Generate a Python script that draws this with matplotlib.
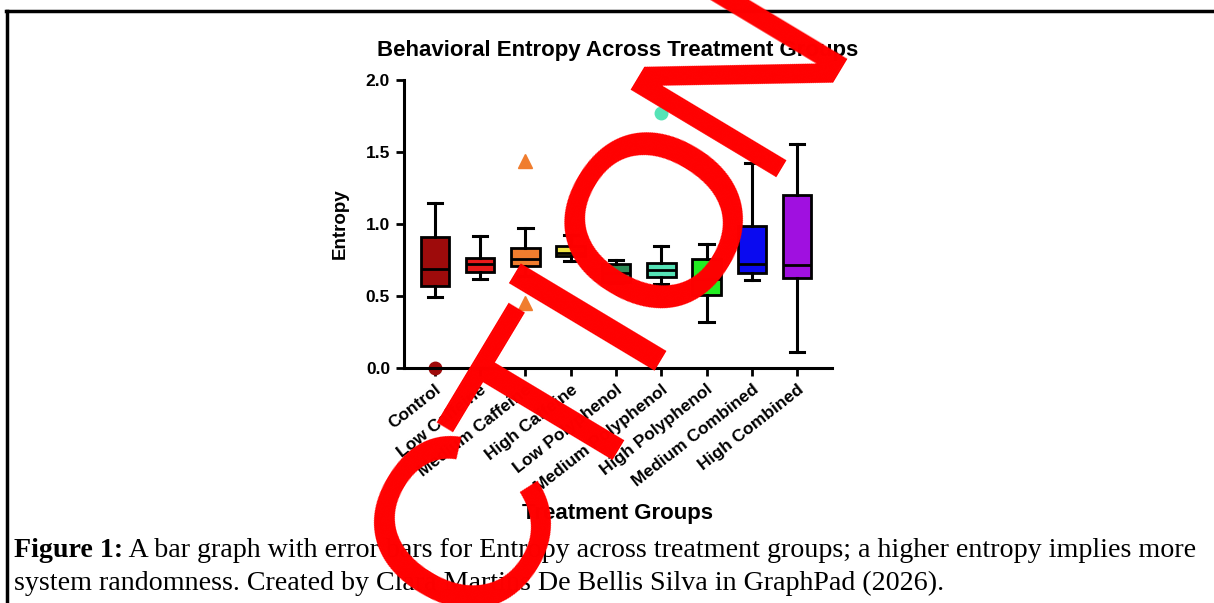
import numpy as np
import matplotlib.pyplot as plt
from matplotlib.lines import Line2D

# values (Entropy per treatment group)
groups = ['Control', 'Low Caffeine', 'Medium Caffeine', 'High Caffeine', 'Low Polyphenol',
          'Medium Polyphenol', 'High Polyphenol', 'Medium Combined', 'High Combined']
whislo = [0.49, 0.62, 0.64, 0.74, 0.59, 0.58, 0.32, 0.61, 0.11]
q1 = [0.57, 0.665, 0.705, 0.775, 0.60, 0.63, 0.51, 0.66, 0.625]
med = [0.69, 0.72, 0.76, 0.80, 0.66, 0.68, 0.62, 0.72, 0.715]
q3 = [0.91, 0.765, 0.832, 0.844, 0.72, 0.728, 0.756, 0.983, 1.198]
whishi = [1.145, 0.918, 0.969, 0.927, 0.75, 0.849, 0.86, 1.422, 1.554]
outliers = [[0.0], [], [1.44, 0.45], [], [], [1.77], [], [], []]

colors = ['#9E0B0B', '#E8191A', '#F07D2E', '#F0E442', '#2E8B57',
          '#55E3B6', '#22EE22', '#0A0AF0', '#A010E0']
markers = ['o', 'o', '^', 'o', 'o', 'o', 'o', 'o', 'o']

fig = plt.figure(figsize=(12.14, 6.03), dpi=100)
ax = fig.add_axes([404/1214, 1 - 368/603, 428/1214, 288/603])

stats = []
for i in range(len(groups)):
    stats.append({'whislo': whislo[i], 'q1': q1[i], 'med': med[i], 'q3': q3[i],
                  'whishi': whishi[i], 'fliers': outliers[i]})

bp = ax.bxp(stats, positions=np.arange(len(groups)), widths=0.63, patch_artist=True,
            boxprops=dict(linewidth=2.0, edgecolor='black'),
            medianprops=dict(color='black', linewidth=2.0),
            whiskerprops=dict(color='black', linewidth=2.2),
            capprops=dict(color='black', linewidth=2.2))
for i, box in enumerate(bp['boxes']):
    box.set_facecolor(colors[i])
for i, fl in enumerate(bp['fliers']):
    fl.set(marker=markers[i], markerfacecolor=colors[i], markeredgecolor=colors[i],
           markersize=10 if markers[i] == '^' else 9)
    fl.set_clip_on(False)

ax.set_xlim(-0.68, 8.77)
ax.set_ylim(0, 2.0)
ax.set_yticks([0.0, 0.5, 1.0, 1.5, 2.0])
ax.set_yticklabels(['0.0', '0.5', '1.0', '1.5', '2.0'], fontsize=12.5, fontweight='bold',
                   family='Liberation Sans')
ax.set_xticks(np.arange(len(groups)))
ax.set_xticklabels(groups, rotation=38, ha='right', rotation_mode='anchor', fontsize=12.5,
                   fontweight='bold', family='Liberation Sans')
for sp in ['top', 'right']:
    ax.spines[sp].set_visible(False)
for sp in ['left', 'bottom']:
    ax.spines[sp].set_linewidth(2.2)
ax.tick_params(width=2, length=6, pad=4)

ax.set_title('Behavioral Entropy Across Treatment Groups', fontsize=16, fontweight='bold',
             family='Liberation Sans', pad=17)
ax.set_ylabel('Entropy', fontsize=13.5, fontweight='bold', family='Liberation Sans', labelpad=12)
ax.set_xlabel('Treatment Groups', fontsize=16, fontweight='bold', family='Liberation Sans',
              labelpad=6)

# page frame around the figure
fig.add_artist(Line2D([6/1214, 1], [1 - 11/603, 1 - 11/603], color='black', lw=2.5))
fig.add_artist(Line2D([7/1214, 7/1214], [0, 1 - 11/603], color='black', lw=2.5))

# caption
cap = fig.text(14/1214, 1 - 557/603, 'Figure 1:', fontsize=20.2, fontweight='bold',
               family='Liberation Serif')
ax.annotate(' A bar graph with error bars for Entropy across treatment groups; a higher entropy implies more',
            xy=(1, 0), xycoords=cap, va='bottom', ha='left', fontsize=20.2,
            family='Liberation Serif')
fig.text(14/1214, 1 - 590/603,
         'system randomness. Created by Clara Martins De Bellis Silva in GraphPad (2026).',
         fontsize=20.2, family='Liberation Serif')

# red stamp letters laid over the page
stamp = ['C', 'T', 'I', 'O', 'N']
stamp_xy = [(528, 560), (616, 445), (650, 342), (722, 255), (803, 100)]
for ch, (px, py) in zip(stamp, stamp_xy):
    fig.text(px/1214, 1 - py/603, ch, rotation=59, rotation_mode='anchor', ha='center',
             va='baseline', fontsize=178, color='#FF0000', family='Liberation Sans', zorder=10)

plt.savefig('out.png', dpi=100)
